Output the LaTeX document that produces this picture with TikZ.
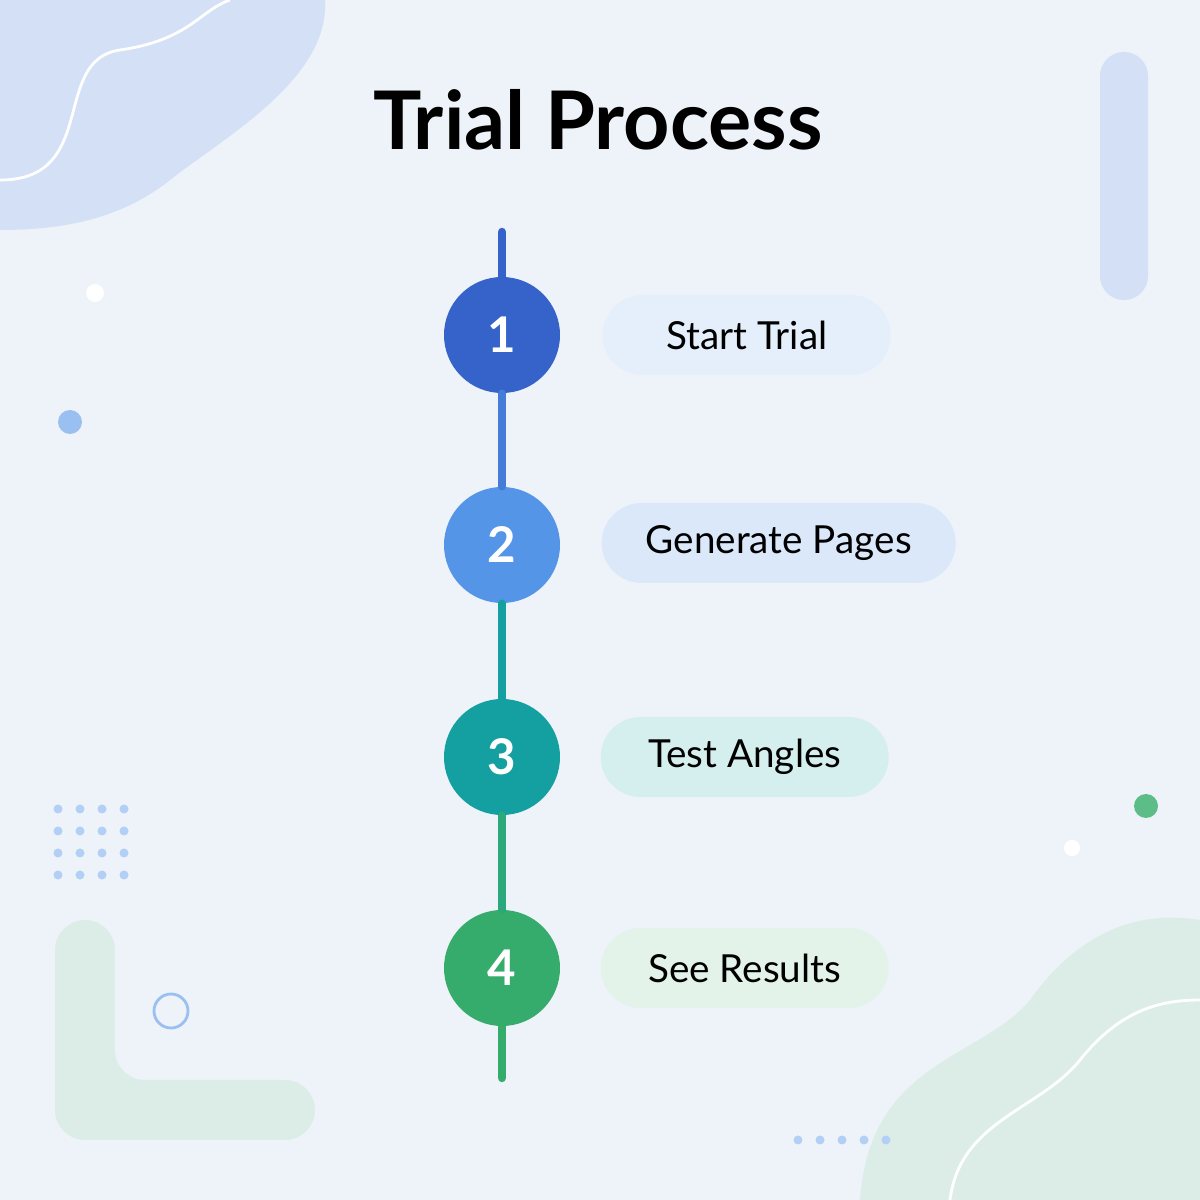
\documentclass[tikz,border=0pt]{standalone}
\usepackage{fontspec}
\setmainfont{Lato}
\usetikzlibrary{positioning}
\definecolor{stepA}{HTML}{3563C9}
\definecolor{stepB}{HTML}{5595E8}
\definecolor{stepC}{HTML}{14A0A0}
\definecolor{stepD}{HTML}{35AC6C}
\definecolor{bgwash}{HTML}{EEF2F9}
\definecolor{blobblue}{HTML}{D3E0F5}
\definecolor{blobgreen}{HTML}{DCEDE8}
\begin{document}
\begin{tikzpicture}[
  stepdot/.style={circle, minimum size=1.16cm, inner sep=0pt, text=white, font=\fontsize{14}{16}\selectfont\bfseries},
  pill/.style={rectangle, rounded corners=0.4cm, minimum height=0.8cm, minimum width=2.88cm, font=\fontsize{11}{13}\selectfont},
  deco/.style={fill=blobblue}
]
\useasboundingbox (0,0) rectangle (12,12);
\fill[bgwash] (0,0) rectangle (12,12);

% corner decorations
\fill[deco] (0,12) -- (3.25,12) .. controls (3.3,11.2) and (2.2,10.6) .. (1.7,10.2) .. controls (1.2,9.8) and (0.6,9.7) .. (0,9.7) -- cycle;
\draw[white, thick] (0,10.2) .. controls (1,10.2) and (0.5,11.4) .. (1.2,11.5) .. controls (1.9,11.6) and (2,11.9) .. (2.3,12);
\fill[deco, rounded corners=0.24cm] (11,9) rectangle (11.48,11.48);
\fill[blobgreen, rounded corners=0.3cm] (0.55,0.6) -- (0.55,2.8) -- (1.15,2.8) -- (1.15,1.2) -- (3.15,1.2) -- (3.15,0.6) -- cycle;
\fill[blobgreen] (12,0) -- (8.6,0) .. controls (8.7,1.4) and (9.8,1.4) .. (10.3,2) .. controls (10.8,2.7) and (11.4,2.9) .. (12,2.8) -- cycle;
\draw[white, thick] (9.5,0) .. controls (9.6,0.8) and (10.4,0.9) .. (10.8,1.4) .. controls (11.2,1.9) and (11.6,2) .. (12,2);
\fill[stepB!60] (0.7,7.78) circle (0.12);
\fill[white] (0.95,9.07) circle (0.09);
\fill[white] (10.72,3.52) circle (0.08);
\fill[stepD!80] (11.46,3.94) circle (0.12);
\draw[stepB!60, thick] (1.71,1.89) circle (0.17);
\foreach \i in {0,...,3}
  \foreach \j in {0,...,3}
    \fill[stepB!45] (0.58+0.22*\i,3.25+0.22*\j) circle (0.045);
\foreach \i in {0,...,4}
  \fill[stepB!45] (7.98+0.22*\i,0.6) circle (0.045);

% title
\node[font=\fontsize{23}{26}\selectfont\bfseries] (title) at (5.98,10.8) {Trial Process};

% timeline
\coordinate (top) at (5.02,9.68);
\coordinate (bottom) at (5.02,1.22);
\node[stepdot, fill=stepA] (s1) at (5.02,8.65) {1};
\node[stepdot, fill=stepB] (s2) at (5.02,6.55) {2};
\node[stepdot, fill=stepC] (s3) at (5.02,4.43) {3};
\node[stepdot, fill=stepD] (s4) at (5.02,2.32) {4};
\begin{scope}[line width=2.4pt, line cap=round]
\draw[stepA] (top) -- (s1);
\draw[stepA!50!stepB] (s1) -- (s2);
\draw[stepC] (s2) -- (s3);
\draw[stepD!70!stepC] (s3) -- (s4);
\draw[stepD] (s4) -- (bottom);
\end{scope}

% labels
\node[pill, fill=stepB!15, anchor=west] (l1) at (6.02,8.65) {Start Trial};
\node[pill, fill=stepB!22, anchor=west, minimum width=3.54cm] (l2) at (6.01,6.57) {Generate Pages};
\node[pill, fill=stepC!18, anchor=west] (l3) at (6.0,4.43) {Test Angles};
\node[pill, fill=stepD!14, anchor=west] (l4) at (6.0,2.32) {See Results};
\end{tikzpicture}
\end{document}
